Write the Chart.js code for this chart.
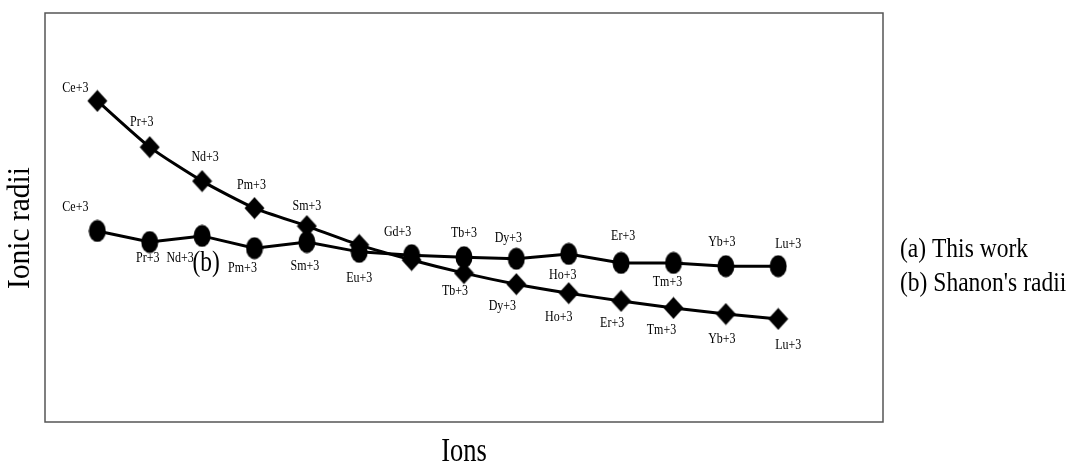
<!DOCTYPE html>
<html>
<head>
<meta charset="utf-8">
<script src="https://cdn.jsdelivr.net/npm/chart.js@4.4.1/dist/chart.umd.min.js"></script>
<style>
  html, body { margin: 0; padding: 0; background: #fff; }
  #wrap { width: 1070px; height: 468px; position: relative; }
</style>
</head>
<body>
<div id="wrap"><canvas id="ionChart"></canvas></div>
<script>
// Ions along the x axis
const ions = ["Ce+3", "Pr+3", "Nd+3", "Pm+3", "Sm+3", "Eu+3", "Gd+3", "Tb+3", "Dy+3", "Ho+3", "Er+3", "Tm+3", "Yb+3", "Lu+3"];

// (a) This work - diamonds (arbitrary units, the original has no ticks)
const thisWork = [78.5, 67.2, 58.9, 52.3, 47.9, 43.3, 39.6, 36.4, 33.7, 31.5, 29.6, 27.9, 26.4, 25.2];
// (b) Shanon's radii - circles
const shanon = [46.7, 44.0, 45.5, 42.5, 44.0, 41.6, 40.8, 40.3, 39.9, 41.1, 38.9, 38.9, 38.1, 38.1];

// which points carry a text label (null = none)
const labelsA = ["Ce+3", "Pr+3", "Nd+3", "Pm+3", "Sm+3", null, null, "Tb+3", "Dy+3", "Ho+3", "Er+3", "Tm+3", "Yb+3", "Lu+3"];
const labelsB = ["Ce+3", "Pr+3", "Nd+3", "Pm+3", "Sm+3", "Eu+3", "Gd+3", "Tb+3", "Dy+3", "Ho+3", "Er+3", "Tm+3", "Yb+3", "Lu+3"];

const legendLines = ["(a) This work", "(b) Shanon's radii"];

const FONT = '"Liberation Serif", "Times New Roman", serif';

// marker images: the original is a bit taller than wide
function makeMarker(kind) {
    const w = kind === 'circle' ? 18 : 21;
    const h = 23;
    const cv = document.createElement('canvas');
    cv.width = w; cv.height = h;
    const g = cv.getContext('2d');
    g.fillStyle = '#000';
    g.beginPath();
    if (kind === 'circle') {
        g.ellipse(w / 2, h / 2, w / 2 - 0.5, h / 2 - 0.5, 0, 0, Math.PI * 2);
    } else {
        g.moveTo(w / 2, 0.5);
        g.lineTo(w - 0.5, h / 2);
        g.lineTo(w / 2, h - 0.5);
        g.lineTo(0.5, h / 2);
        g.closePath();
    }
    g.fill();
    return cv;
}

// condensed text, like the narrow serif of the original
function txt(c, s, x, y, size, sx) {
    c.save();
    c.translate(x, y);
    c.scale(sx, 1);
    c.font = size + 'px ' + FONT;
    c.fillText(s, 0, 0);
    c.restore();
}

document.addEventListener('DOMContentLoaded', function() {
    // label offsets in px (dx, dy from the point centre)
    const offA = [[-22,-13],[-8,-25],[3,-24],[-3,-23],[0,-20],null,null,[-9,18],[-14,22],[-10,24],[-9,22],[-12,22],[-4,25],[10,26]];
    const offB = [[-22,-24],[-2,16],[-22,22],[-12,20],[-2,24],[0,26],[-14,-23],[0,-24],[-8,-21],[-6,21],[2,-27],[-6,19],[-4,-24],[10,-22]];

    const pointsA = thisWork.map((v, i) => ({ x: i, y: v }));
    const pointsB = shanon.map((v, i) => ({ x: i, y: v }));

    const textPlugin = {
        id: 'textPlugin',
        afterDatasetsDraw(chart) {
            const c = chart.ctx;
            const area = chart.chartArea;
            c.save();
            // frame
            c.strokeStyle = '#555';
            c.lineWidth = 1.5;
            c.strokeRect(area.left, area.top, area.right - area.left, area.bottom - area.top);

            c.fillStyle = '#000';
            c.textAlign = 'center';
            c.textBaseline = 'middle';
            [[0, labelsA, offA], [1, labelsB, offB]].forEach(([di, labs, offs]) => {
                const meta = chart.getDatasetMeta(di);
                meta.data.forEach((pt, i) => {
                    if (!labs[i] || !offs[i]) return;
                    txt(c, labs[i], pt.x + offs[i][0], pt.y + offs[i][1], 15, 0.8);
                });
            });

            // "(b)" tag next to the circle series
            const nd = chart.getDatasetMeta(1).data[2];
            txt(c, '(b)', nd.x + 4, nd.y + 27, 30, 0.78);

            // axis titles
            txt(c, 'Ions', (area.left + area.right) / 2, 452, 34, 0.78);
            c.save();
            c.translate(21, 228);
            c.rotate(-Math.PI / 2);
            txt(c, 'Ionic radii', 0, 0, 32, 0.92);
            c.restore();

            // legend text
            c.textAlign = 'left';
            legendLines.forEach((t, i) => txt(c, t, 900, 250 + i * 34, 28, 0.84));
            c.restore();
        }
    };

    const config = {
        type: 'line',
        data: {
            datasets: [{
                label: legendLines[0],
                data: pointsA,
                borderColor: '#000',
                backgroundColor: '#000',
                borderWidth: 3,
                pointStyle: makeMarker('diamond'),
                tension: 0.2
            }, {
                label: legendLines[1],
                data: pointsB,
                borderColor: '#000',
                backgroundColor: '#000',
                borderWidth: 3,
                pointStyle: makeMarker('circle'),
                tension: 0
            }]
        },
        options: {
            responsive: true,
            maintainAspectRatio: false,
            animation: false,
            layout: { padding: { left: 45, top: 13, right: 187, bottom: 46 } },
            plugins: {
                legend: { display: false },
                tooltip: { enabled: false }
            },
            scales: {
                x: { type: 'linear', min: -1, max: 15, display: false },
                y: { min: 0, max: 100, display: false }
            }
        },
        plugins: [textPlugin]
    };

    new Chart(document.getElementById('ionChart'), config);
});
</script>
</body>
</html>
